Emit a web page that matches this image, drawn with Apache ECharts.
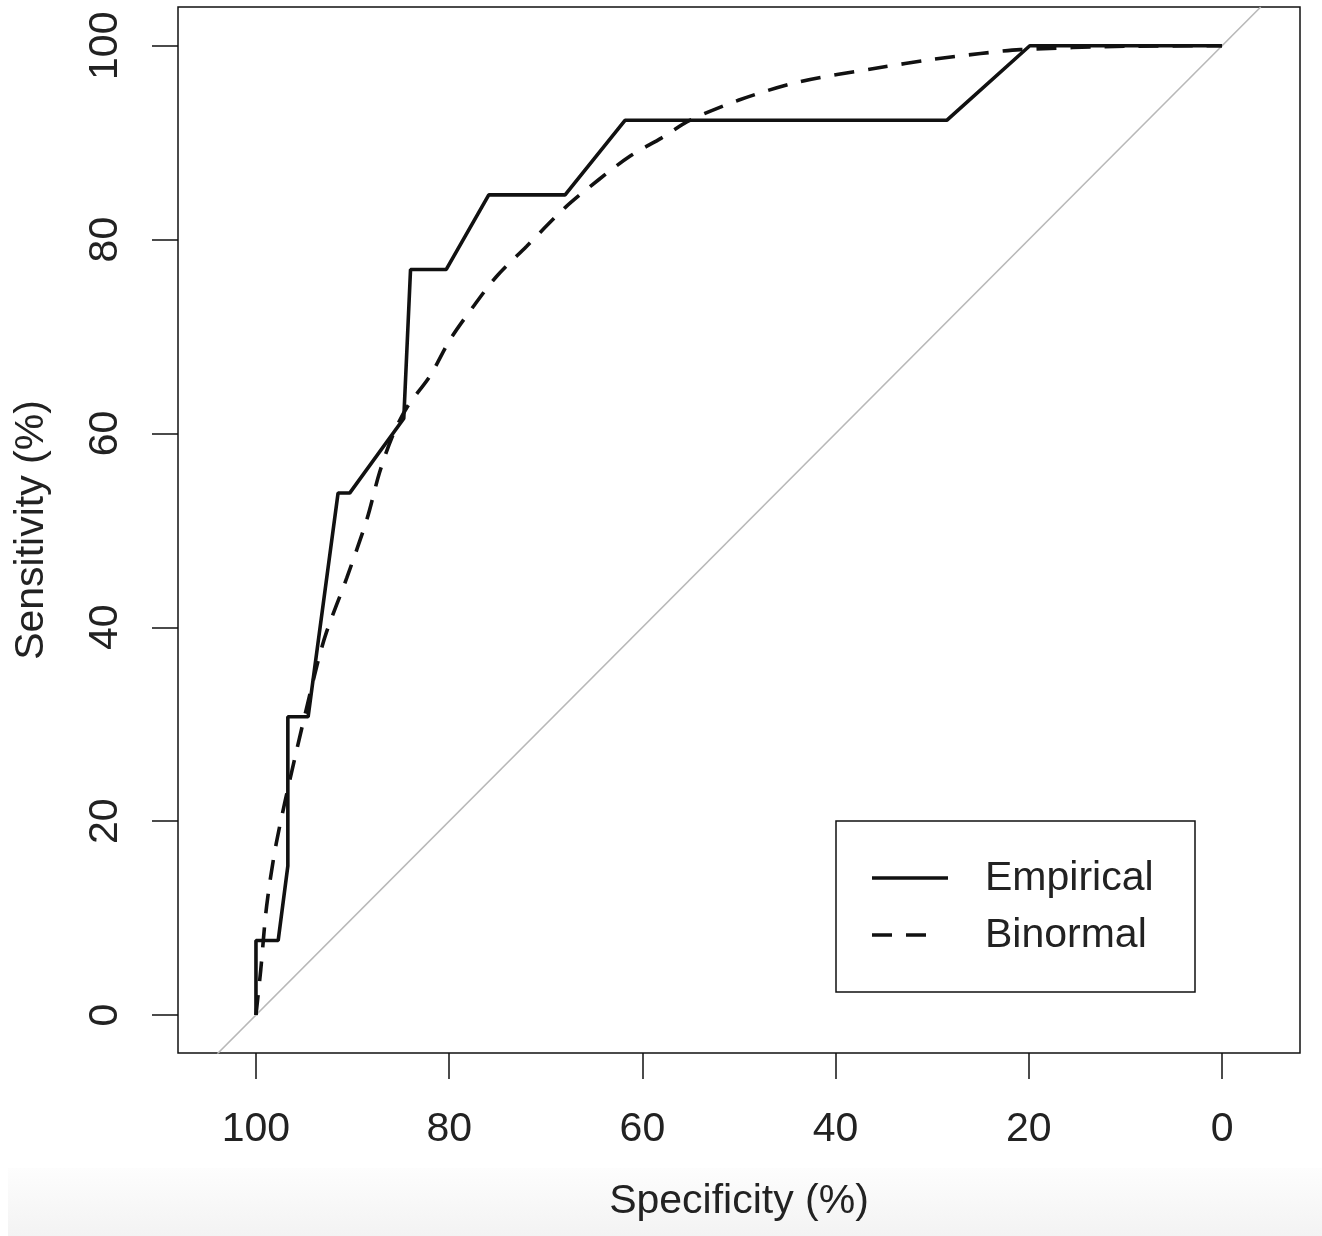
<!DOCTYPE html>
<html>
<head>
<meta charset="utf-8">
<script src="https://cdn.jsdelivr.net/npm/echarts@6/dist/echarts.min.js"></script>
<style>
html,body{margin:0;padding:0;background:#fff;}
#c{width:1322px;height:1236px;}
</style>
</head>
<body>
<div id="c"></div>
<script>
// Specificity (%) , Sensitivity (%)
const empirical = [
  [100,0],[100,7.69],[97.7,7.69],[96.7,15.38],[96.7,30.77],[94.6,30.77],
  [91.5,53.85],[90.3,53.85],[84.7,61.54],[84.0,76.92],[80.3,76.92],
  [75.9,84.62],[68.0,84.62],[61.8,92.31],[28.5,92.31],[19.9,100],[0,100]
];
const binormal = [
  [100,0],[99.5,4.7],[98.9,11.2],[97.9,17.7],[96.0,26.4],[93.7,36.0],
  [92.7,39.5],[90.6,45.1],[88.5,51.2],[87.2,56.0],[85.8,59.9],[84.3,62.8],
  [82.0,65.9],[79.9,69.7],[77.5,73.1],[75.1,76.2],[72.0,79.3],[68.0,83.3],
  [64.5,86.2],[61.3,88.6],[58.0,90.5],[55.1,92.3],[50.0,94.4],[43.7,96.3],
  [35.7,97.7],[29.9,98.6],[25.0,99.2],[20.9,99.6],[10.0,99.95],[0,100]
];
const chanceLine = [[104,-4],[-4,104]];
const tickValues = [0,20,40,60,80,100];
const seriesNames = ['Empirical','Binormal'];

const FONT = "'Liberation Sans', Arial, sans-serif";
const TXT = '#222';
const chart = echarts.init(document.getElementById('c'));
const G = {left:178, top:7, right:22, bottom:183};
chart.setOption({
  animation:false,
  backgroundColor:'#fff',
  grid:{left:G.left, top:G.top, right:G.right, bottom:G.bottom, show:true, borderColor:'#111', borderWidth:1.5, backgroundColor:'transparent'},
  xAxis:{
    type:'value', inverse:true, min:-8.07, max:108.07, position:'bottom',
    name:'Specificity (%)', nameLocation:'middle', nameGap:128,
    nameTextStyle:{fontFamily:FONT, fontSize:41, color:TXT},
    axisLine:{show:false, onZero:false},
    axisTick:{show:true, inside:false, length:26, customValues:tickValues, lineStyle:{color:'#111', width:1.5}},
    axisLabel:{customValues:tickValues, margin:56, fontFamily:FONT, fontSize:41, color:TXT},
    splitLine:{show:false}
  },
  yAxis:{
    type:'value', min:-3.92, max:104, position:'left',
    name:'Sensitivity (%)', nameLocation:'middle', nameGap:126, nameRotate:90,
    nameTextStyle:{fontFamily:FONT, fontSize:41, color:TXT},
    axisLine:{show:false, onZero:false},
    axisTick:{show:true, inside:false, length:26, customValues:tickValues, lineStyle:{color:'#111', width:1.5}},
    axisLabel:{customValues:tickValues, rotate:90, margin:52, fontFamily:FONT, fontSize:41, color:TXT},
    splitLine:{show:false}
  },
  series:[
    {type:'line', name:'chance', data:chanceLine, symbol:'none', silent:true, clip:true,
     lineStyle:{color:'#b8b8b8', width:1.6}, z:1},
    {type:'line', name:seriesNames[1], data:binormal, symbol:'none', smooth:0.3, clip:true,
     lineStyle:{color:'#111', width:3.6, type:[20,14]}, z:2},
    {type:'line', name:seriesNames[0], data:empirical, symbol:'none', clip:true,
     lineStyle:{color:'#111', width:3.6}, z:3}
  ],
  graphic:[
    {type:'rect', shape:{x:8, y:1168, width:1314, height:68}, z:-10, silent:true,
     style:{fill:new echarts.graphic.LinearGradient(0,0,0,1,[{offset:0,color:'#fdfdfd'},{offset:1,color:'#f3f3f3'}])}},
    {type:'rect', shape:{x:836, y:821, width:359, height:171}, style:{fill:'#fff', stroke:'#111', lineWidth:1.5}, z:10},
    {type:'line', shape:{x1:872, y1:878, x2:948, y2:878}, style:{stroke:'#111', lineWidth:3.6}, z:11},
    {type:'line', shape:{x1:872, y1:935, x2:937, y2:935}, style:{stroke:'#111', lineWidth:3.6, lineDash:[20,14]}, z:11},
    {type:'text', x:985, y:879, style:{text:seriesNames[0], font:"41px 'Liberation Sans', Arial, sans-serif", fill:TXT, verticalAlign:'middle'}, z:11},
    {type:'text', x:985, y:936, style:{text:seriesNames[1], font:"41px 'Liberation Sans', Arial, sans-serif", fill:TXT, verticalAlign:'middle'}, z:11}
  ]
});
</script>
</body>
</html>
